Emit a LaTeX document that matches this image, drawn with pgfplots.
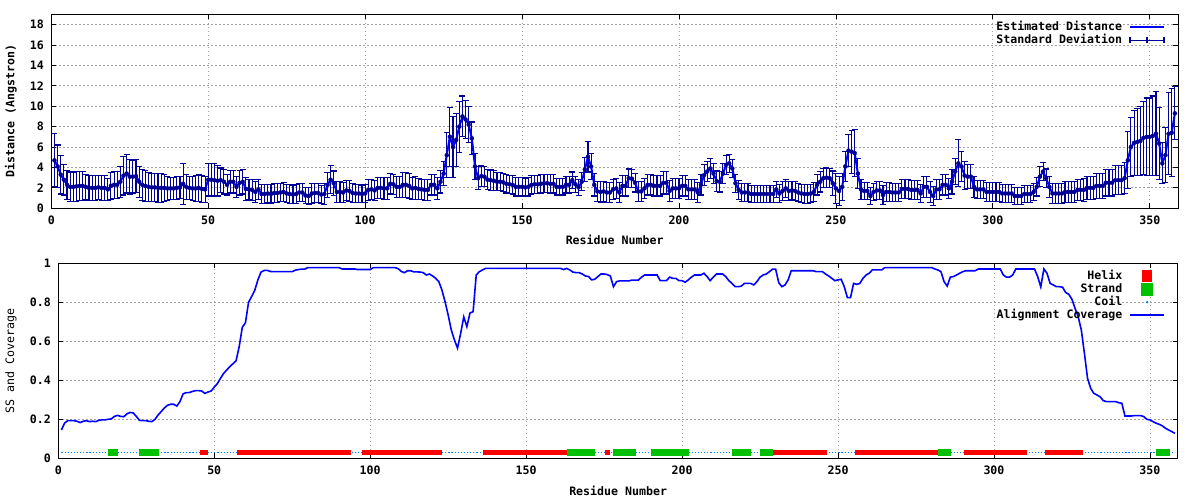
\documentclass[border=0pt]{standalone}
\usepackage{fontspec}
\setmainfont{DejaVu Sans Mono}
\usepackage{pgfplots}
\pgfplotsset{compat=1.18}
\usepackage{pgfplotstable}
\definecolor{lineblue}{RGB}{0,0,255}
\definecolor{barblue}{RGB}{0,0,150}
\definecolor{helixred}{RGB}{255,0,0}
\definecolor{strandgreen}{RGB}{0,192,0}
\definecolor{coilblue}{RGB}{0,128,255}
\definecolor{gridgray}{RGB}{160,160,160}

\pgfplotstableread{
r m s
1 4.7 2.6
2 4.1 2.1
3 3.3 1.9
4 2.8 1.5
5 2.3 1.4
6 2.1 1.45
7 2.1 1.45
8 2.15 1.45
9 2.2 1.4
10 2.2 1.4
11 2.1 1.2
12 2.0 1.2
13 2.0 1.2
14 2.0 1.2
15 2.05 1.2
16 2.0 1.2
17 2.0 1.2
18 1.85 1.1
19 2.2 1.3
20 2.3 1.3
21 2.3 1.3
22 2.6 1.5
23 3.2 1.9
24 3.4 1.9
25 3.1 1.7
26 3.1 1.6
27 3.15 1.6
28 2.6 1.5
29 2.3 1.5
30 2.2 1.5
31 2.1 1.4
32 2.05 1.4
33 2.05 1.4
34 2.0 1.4
35 2.0 1.4
36 2.0 1.35
37 1.95 1.15
38 1.95 1.1
39 1.95 1.1
40 2.0 1.1
41 2.05 1.1
42 2.4 2.0
43 2.1 1.2
44 2.0 1.1
45 1.95 1.2
46 1.95 1.3
47 2.0 1.3
48 1.9 1.3
49 1.85 1.3
50 2.8 1.6
51 2.8 1.6
52 2.75 1.6
53 2.7 1.5
54 2.75 1.2
55 2.6 1.2
56 2.3 1.0
57 2.6 1.1
58 2.6 1.1
59 2.1 1.0
60 2.5 1.2
61 2.6 1.2
62 1.9 1.1
63 1.85 1.0
64 1.8 1.0
65 1.6 1.0
66 1.85 1.0
67 1.4 0.9
68 1.4 0.9
69 1.45 0.9
70 1.4 0.9
71 1.5 0.9
72 1.5 0.9
73 1.55 0.9
74 1.6 0.9
75 1.45 0.9
76 1.4 0.9
77 1.35 0.9
78 1.4 0.9
79 1.55 0.9
80 1.55 0.9
81 1.25 0.8
82 1.2 0.8
83 1.45 0.95
84 1.5 0.95
85 1.5 0.95
86 1.35 0.9
87 1.4 1.0
88 2.3 1.2
89 2.8 1.35
90 2.45 1.2
91 1.6 1.0
92 1.6 1.0
93 1.55 1.0
94 1.75 1.0
95 1.7 1.0
96 1.5 0.9
97 1.45 0.85
98 1.45 0.85
99 1.4 0.85
100 1.45 0.9
101 1.8 1.0
102 1.85 1.0
103 1.75 1.0
104 2.0 1.0
105 2.0 1.0
106 1.95 1.1
107 1.95 1.1
108 2.4 1.0
109 2.35 1.0
110 2.1 1.0
111 2.1 1.0
112 2.3 1.2
113 2.3 1.2
114 2.2 1.2
115 1.95 1.1
116 2.0 1.1
117 1.9 1.0
118 1.85 1.0
119 1.8 1.0
120 1.8 1.0
121 2.3 1.0
122 2.3 1.0
123 1.95 1.1
124 2.6 1.1
125 3.4 1.2
126 5.2 2.2
127 7.0 2.9
128 6.0 3.0
129 6.7 2.6
130 8.0 2.5
131 9.0 2.0
132 8.7 1.9
133 8.2 1.8
134 6.85 1.6
135 4.1 1.3
136 2.95 1.1
137 3.15 1.0
138 3.1 1.0
139 2.8 1.0
140 2.75 1.0
141 2.7 1.0
142 2.6 0.9
143 2.6 0.9
144 2.55 0.9
145 2.4 0.9
146 2.35 0.9
147 2.3 0.9
148 2.1 0.9
149 2.1 0.9
150 2.1 0.9
151 2.05 0.9
152 2.1 0.9
153 2.3 0.9
154 2.35 0.9
155 2.35 0.9
156 2.4 0.9
157 2.45 0.9
158 2.45 0.9
159 2.4 0.9
160 2.4 0.9
161 2.1 0.8
162 2.1 0.8
163 2.1 0.8
164 2.3 0.8
165 2.3 0.8
166 2.75 0.8
167 2.35 0.8
168 2.05 0.8
169 2.6 0.9
170 3.8 1.2
171 5.05 1.5
172 4.1 1.3
173 2.3 1.1
174 1.65 1.0
175 1.6 1.0
176 1.65 1.0
177 1.55 1.0
178 1.55 1.0
179 1.85 1.0
180 1.95 1.0
181 1.55 1.0
182 2.2 1.0
183 2.2 1.0
184 2.95 0.9
185 2.9 0.9
186 2.5 0.9
187 1.65 1.0
188 1.65 1.0
189 1.95 1.0
190 2.3 1.0
191 2.3 1.0
192 2.2 1.0
193 2.2 1.0
194 2.2 1.0
195 2.5 1.1
196 2.5 1.1
197 1.7 1.0
198 1.95 1.0
199 1.95 1.0
200 1.95 1.0
201 2.2 1.0
202 2.2 1.0
203 1.85 1.0
204 1.85 1.0
205 1.85 1.0
206 1.55 1.0
207 2.3 1.0
208 3.25 1.0
209 3.6 1.0
210 3.9 1.0
211 3.4 1.0
212 2.65 1.0
213 2.6 1.0
214 3.4 1.0
215 4.25 0.95
216 4.4 0.9
217 3.9 0.9
218 2.45 0.9
219 1.8 0.9
220 1.55 0.9
221 1.55 0.9
222 1.55 0.9
223 1.4 0.8
224 1.4 0.8
225 1.4 0.8
226 1.4 0.8
227 1.4 0.8
228 1.4 0.8
229 1.4 0.8
230 1.4 0.8
231 1.85 0.8
232 1.45 0.9
233 1.7 0.9
234 1.95 0.9
235 1.7 0.9
236 1.75 0.9
237 1.7 0.9
238 1.55 0.9
239 1.45 0.9
240 1.4 0.9
241 1.4 0.9
242 1.45 0.9
243 1.6 0.9
244 2.3 1.0
245 2.6 1.0
246 2.95 0.95
247 3.0 0.95
248 2.95 0.95
249 2.45 1.2
250 1.95 1.5
251 1.7 1.4
252 2.1 1.3
253 4.1 1.5
254 5.65 1.6
255 5.55 2.1
256 5.4 2.3
257 3.4 1.5
258 1.85 1.0
259 1.7 0.8
260 1.7 0.8
261 1.2 0.8
262 1.6 0.8
263 1.75 0.9
264 1.75 0.9
265 1.3 0.9
266 1.6 0.9
267 1.6 0.9
268 1.55 0.9
269 1.55 0.9
270 1.55 0.9
271 1.9 0.9
272 1.9 0.9
273 1.9 0.9
274 1.8 0.9
275 1.8 0.9
276 1.8 0.9
277 1.45 0.9
278 2.1 1.0
279 2.1 1.0
280 1.6 1.0
281 1.2 0.9
282 1.85 1.0
283 1.85 1.0
284 2.3 1.0
285 2.3 1.0
286 1.95 1.0
287 2.6 1.2
288 3.6 1.3
289 4.4 2.3
290 4.1 1.5
291 3.2 1.4
292 3.1 1.2
293 3.1 1.2
294 2.1 1.0
295 1.85 0.9
296 1.85 0.9
297 1.85 0.9
298 1.6 0.9
299 1.6 0.9
300 1.6 0.9
301 1.6 0.9
302 1.6 0.9
303 1.45 0.9
304 1.45 0.9
305 1.45 0.9
306 1.45 0.9
307 1.2 0.8
308 1.2 0.8
309 1.2 0.8
310 1.4 0.8
311 1.4 0.8
312 1.4 0.8
313 1.6 0.8
314 2.1 0.9
315 3.1 1.0
316 3.6 0.9
317 2.95 0.9
318 2.1 1.0
319 1.45 1.0
320 1.45 1.0
321 1.45 1.0
322 1.45 1.0
323 1.6 1.0
324 1.6 1.0
325 1.6 1.0
326 1.6 1.0
327 1.8 1.05
328 1.8 1.05
329 1.8 1.1
330 2.0 1.1
331 2.0 1.1
332 2.0 1.1
333 2.2 1.2
334 2.2 1.2
335 2.2 1.2
336 2.5 1.3
337 2.5 1.3
338 2.5 1.3
339 2.75 1.4
340 2.75 1.4
341 2.75 1.4
342 2.95 1.5
343 4.7 2.8
344 6.0 2.9
345 6.4 3.2
346 6.5 3.3
347 6.6 3.4
348 6.9 3.6
349 7.0 3.8
350 7.0 3.8
351 7.1 3.9
352 7.3 4.1
353 6.35 3.5
354 4.4 2.0
355 5.2 2.7
356 7.3 4.0
357 7.4 4.3
358 9.3 2.6
}\distdata

\pgfplotstableread{
r c
1 0.145
2 0.18
3 0.193
4 0.193
5 0.193
6 0.19
7 0.183
8 0.19
9 0.193
10 0.188
11 0.19
12 0.188
13 0.195
14 0.197
15 0.197
16 0.2
17 0.202
18 0.215
19 0.22
20 0.215
21 0.213
22 0.228
23 0.235
24 0.233
25 0.215
26 0.195
27 0.193
28 0.193
29 0.19
30 0.188
31 0.2
32 0.222
33 0.24
34 0.258
35 0.272
36 0.277
37 0.277
38 0.268
39 0.29
40 0.33
41 0.337
42 0.337
43 0.343
44 0.347
45 0.347
46 0.345
47 0.333
48 0.34
49 0.345
50 0.365
51 0.383
52 0.41
53 0.435
54 0.453
55 0.47
56 0.485
57 0.5
58 0.573
59 0.672
60 0.695
61 0.8
62 0.83
63 0.862
64 0.915
65 0.955
66 0.963
67 0.964
68 0.958
69 0.957
70 0.957
71 0.957
72 0.957
73 0.957
74 0.957
75 0.957
76 0.965
77 0.968
78 0.97
79 0.97
80 0.978
81 0.978
82 0.978
83 0.978
84 0.978
85 0.978
86 0.978
87 0.978
88 0.978
89 0.978
90 0.978
91 0.971
92 0.971
93 0.971
94 0.971
95 0.971
96 0.968
97 0.968
98 0.968
99 0.968
100 0.968
101 0.978
102 0.978
103 0.978
104 0.978
105 0.978
106 0.978
107 0.978
108 0.978
109 0.972
110 0.958
111 0.952
112 0.962
113 0.962
114 0.956
115 0.956
116 0.955
117 0.952
118 0.94
119 0.945
120 0.935
121 0.923
122 0.906
123 0.863
124 0.803
125 0.735
126 0.658
127 0.607
128 0.565
129 0.64
130 0.725
131 0.675
132 0.745
133 0.752
134 0.94
135 0.957
136 0.966
137 0.974
138 0.974
139 0.974
140 0.974
141 0.974
142 0.974
143 0.974
144 0.974
145 0.974
146 0.974
147 0.974
148 0.974
149 0.974
150 0.974
151 0.974
152 0.974
153 0.974
154 0.974
155 0.974
156 0.974
157 0.974
158 0.974
159 0.974
160 0.974
161 0.974
162 0.968
163 0.974
164 0.966
165 0.955
166 0.952
167 0.952
168 0.945
169 0.935
170 0.932
171 0.915
172 0.918
173 0.932
174 0.945
175 0.945
176 0.942
177 0.935
178 0.88
179 0.906
180 0.91
181 0.91
182 0.91
183 0.91
184 0.914
185 0.914
186 0.914
187 0.929
188 0.94
189 0.94
190 0.94
191 0.94
192 0.94
193 0.911
194 0.911
195 0.911
196 0.929
197 0.923
198 0.923
199 0.911
200 0.911
201 0.903
202 0.915
203 0.929
204 0.94
205 0.94
206 0.94
207 0.949
208 0.932
209 0.911
210 0.929
211 0.945
212 0.945
213 0.945
214 0.932
215 0.911
216 0.897
217 0.88
218 0.88
219 0.883
220 0.897
221 0.897
222 0.897
223 0.889
224 0.906
225 0.929
226 0.94
227 0.945
228 0.957
229 0.97
230 0.97
231 0.9
232 0.88
233 0.889
234 0.915
235 0.962
236 0.962
237 0.962
238 0.962
239 0.962
240 0.962
241 0.962
242 0.962
243 0.957
244 0.957
245 0.957
246 0.945
247 0.935
248 0.923
249 0.911
250 0.915
251 0.918
252 0.88
253 0.824
254 0.824
255 0.897
256 0.892
257 0.897
258 0.923
259 0.94
260 0.949
261 0.966
262 0.966
263 0.966
264 0.966
265 0.978
266 0.978
267 0.978
268 0.978
269 0.978
270 0.978
271 0.978
272 0.978
273 0.978
274 0.978
275 0.978
276 0.978
277 0.978
278 0.978
279 0.978
280 0.978
281 0.971
282 0.966
283 0.957
284 0.906
285 0.883
286 0.929
287 0.932
288 0.94
289 0.949
290 0.957
291 0.962
292 0.962
293 0.962
294 0.962
295 0.971
296 0.971
297 0.971
298 0.971
299 0.971
300 0.971
301 0.971
302 0.971
303 0.94
304 0.929
305 0.929
306 0.94
307 0.971
308 0.971
309 0.971
310 0.971
311 0.971
312 0.971
313 0.971
314 0.932
315 0.879
316 0.971
317 0.949
318 0.897
319 0.889
320 0.88
321 0.88
322 0.877
323 0.85
324 0.841
325 0.815
326 0.769
327 0.726
328 0.658
329 0.538
330 0.41
331 0.359
332 0.333
333 0.325
334 0.316
335 0.296
336 0.291
337 0.291
338 0.291
339 0.291
340 0.285
341 0.282
342 0.217
343 0.217
344 0.217
345 0.219
346 0.219
347 0.219
348 0.214
349 0.2
350 0.197
351 0.188
352 0.18
353 0.174
354 0.166
355 0.154
356 0.145
357 0.137
358 0.128
}\covdata

\begin{document}
\begin{tikzpicture}
\path[use as bounding box] (0pt,0pt) rectangle (1200pt,500pt);
\pgfplotsset{
  every axis/.append style={
    scale only axis,
    font=\bfseries\fontsize{11.6}{13}\selectfont,
    /pgf/number format/assume math mode=true,
    axis line style={black, line width=1pt},
    tick style={black, line width=0.8pt},
    major tick length=5pt,
    grid=major,
    major grid style={gridgray, dash pattern=on 1.5pt off 2.5pt, line width=0.8pt},
    xmin=0, xmax=359, xtick={0,50,...,350},
    yticklabel style={xshift=-4pt},
    xticklabel style={yshift=-4pt},
    legend cell align=right,
    legend plot pos=right,
    legend image code/.code={\draw[#1] (0pt,0pt) -- (34pt,0pt);},
    legend style={draw=none, fill=none, inner sep=0pt, outer sep=0pt, anchor=north east,
      nodes={inner sep=1pt, text height=8.5pt, text depth=2.5pt},
      /tikz/column sep=6pt, /tikz/row sep=0pt},
  }
}
% top panel
\begin{axis}[
  at={(51.3pt,291.7pt)}, anchor=south west,
  width=1126.7pt, height=194pt,
  ymin=0, ymax=19, ytick={0,2,...,18},
  xlabel={Residue Number},
  ylabel={Distance (Angstron)},
  every axis x label/.style={at={(axis description cs:0.5,-0.163)}, anchor=center},
  every axis y label/.style={at={(axis description cs:-0.0358,0.5)}, rotate=90, anchor=center},
  legend style={at={(axis description cs:0.9885,0.967)}},
]
\addplot[barblue, only marks, mark=none, forget plot,
  error bars/.cd, y dir=both, y explicit,
  error bar style={barblue, line width=1.1pt},
  error mark options={barblue, line width=1.1pt, mark size=3pt, rotate=90}]
  table[x=r, y=m, y error=s] {\distdata};
\addplot[lineblue, line width=2pt, mark=none] table[x=r, y=m] {\distdata};
\addlegendentry{Estimated Distance}
\addlegendimage{legend image code/.code={\draw[barblue, line width=1.1pt] (0pt,0pt) -- (34pt,0pt) (0pt,-3pt) -- (0pt,3pt) (17pt,-3pt) -- (17pt,3pt) (34pt,-3pt) -- (34pt,3pt);}}
\addlegendentry{Standard Deviation}
\end{axis}
% bottom panel
\begin{axis}[
  at={(58.3pt,41.7pt)}, anchor=south west,
  width=1119.7pt, height=195pt,
  ymin=0, ymax=1, ytick={0,0.2,0.4,0.6,0.8,1},
  xlabel={Residue Number},
  ylabel={SS and Coverage},
  unbounded coords=jump,
  every axis x label/.style={at={(axis description cs:0.5,-0.166)}, anchor=center},
  every axis y label/.style={at={(axis description cs:-0.0422,0.5)}, rotate=90, anchor=center, font=\mdseries\fontsize{11.6}{13}\selectfont},
  legend style={at={(axis description cs:0.9884,0.967)}},
]
\addplot[coilblue, line width=1.2pt, dash pattern=on 1.2pt off 1.92pt, forget plot]
  coordinates {(1,0.031) (358,0.031)};
\addplot[helixred, line width=5.5pt,
  legend image code/.code={\fill[helixred] (14.5pt,-3pt) rectangle (19.5pt,3pt);}]
  coordinates {(45.4,0.031) (48.0,0.031) (50,nan)
  (57.3,0.031) (93.8,0.031) (95,nan)
  (97.3,0.031) (122.9,0.031) (125,nan)
  (136.1,0.031) (163.0,0.031) (170,nan)
  (175.3,0.031) (176.8,0.031) (200,nan)
  (229.0,0.031) (246.6,0.031) (250,nan)
  (255.4,0.031) (281.9,0.031) (285,nan)
  (290.3,0.031) (310.7,0.031) (313,nan)
  (316.3,0.031) (328.6,0.031)};
\addlegendentry{Helix}
\addplot[strandgreen, line width=6.5pt,
  legend image code/.code={\fill[strandgreen] (14pt,-3.2pt) rectangle (20pt,3.2pt);}]
  coordinates {(15.9,0.031) (19.1,0.031) (22,nan)
  (25.9,0.031) (32.3,0.031) (100,nan)
  (163.0,0.031) (172.0,0.031) (175,nan)
  (177.8,0.031) (185.2,0.031) (187,nan)
  (190.0,0.031) (202.1,0.031) (210,nan)
  (215.9,0.031) (222.0,0.031) (223,nan)
  (224.9,0.031) (229.0,0.031) (260,nan)
  (281.9,0.031) (286.1,0.031) (300,nan)
  (351.8,0.031) (356.3,0.031)};
\addlegendentry{Strand}
\addlegendimage{legend image code/.code={\fill[coilblue] (17pt,0pt) circle (1pt);}}
\addlegendentry{Coil}
\addplot[lineblue, line width=1.6pt, mark=none] table[x=r, y=c] {\covdata};
\addlegendentry{Alignment Coverage}
\end{axis}
\end{tikzpicture}
\end{document}
